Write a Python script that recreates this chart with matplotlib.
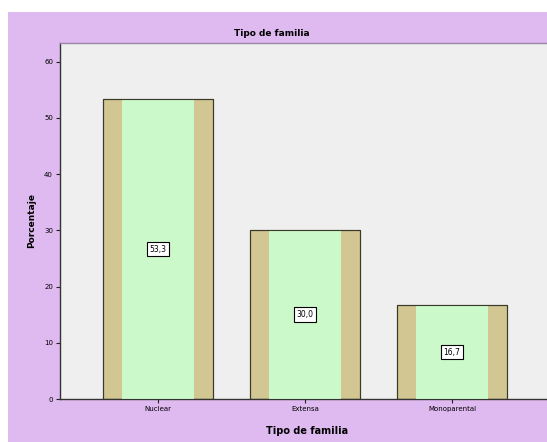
import matplotlib
matplotlib.use("Agg")
import matplotlib.pyplot as plt
from matplotlib.patches import Rectangle

categories = ["Nuclear", "Extensa", "Monoparental"]
values = [53.3, 30.0, 16.7]
labels = ["53,3", "30,0", "16,7"]
yticks = [0, 10, 20, 30, 40, 50, 60]

W, H = 547, 442
fig = plt.figure(figsize=(W / 100, H / 100), dpi=100)
fig.patch.set_facecolor("white")
fig.patches.append(Rectangle((8 / W, 0), 1, (H - 12) / H, transform=fig.transFigure,
                             facecolor="#dfbaf0", edgecolor="none", zorder=-10))

ax = fig.add_axes([60 / W, (H - 399) / H, 1 - 60 / W, (399 - 43) / H])
ax.set_zorder(5)
ax.set_facecolor("#efefef")
x = list(range(len(categories)))
ax.bar(x, values, width=0.75, color="#d2c792", edgecolor="#3a3a2a", linewidth=0.8, zorder=2)
ax.bar(x, values, width=0.49, color="#ccf9c9", edgecolor="none", zorder=3)
ax.bar(x, values, width=0.75, color="none", edgecolor="#3a3a2a", linewidth=0.8, zorder=4)

for xi, v, lab in zip(x, values, labels):
    ax.text(xi, v / 2, lab, ha="center", va="center", fontsize=5.5, zorder=5,
            bbox=dict(boxstyle="square,pad=0.35", facecolor="white", edgecolor="black", linewidth=0.8))

ax.set_xlim(-0.667, 2.646)
ax.set_ylim(0, 63.3)
ax.set_yticks(yticks)
ax.set_yticklabels([str(t) for t in yticks], fontsize=5)
ax.set_xticks(x)
ax.set_xticklabels(categories, fontsize=5)
ax.tick_params(axis="both", length=3, width=0.8, color="#222222", pad=2)
for s in ["left", "bottom"]:
    ax.spines[s].set_color("#333333")
    ax.spines[s].set_linewidth(1)
ax.spines["top"].set_color("#9c85a8")
ax.spines["top"].set_linewidth(1)
ax.spines["right"].set_visible(False)

ax.set_ylabel("Porcentaje", fontsize=6.5, fontweight="bold", labelpad=6)
fig.text(307 / W, 1 - 431 / H, "Tipo de familia", ha="center", va="center",
         fontsize=7, fontweight="bold")
fig.text(272 / W, 1 - 33 / H, "Tipo de familia", ha="center", va="center",
         fontsize=6.5, fontweight="bold")

fig.savefig("out.png", dpi=100, facecolor=fig.get_facecolor())
